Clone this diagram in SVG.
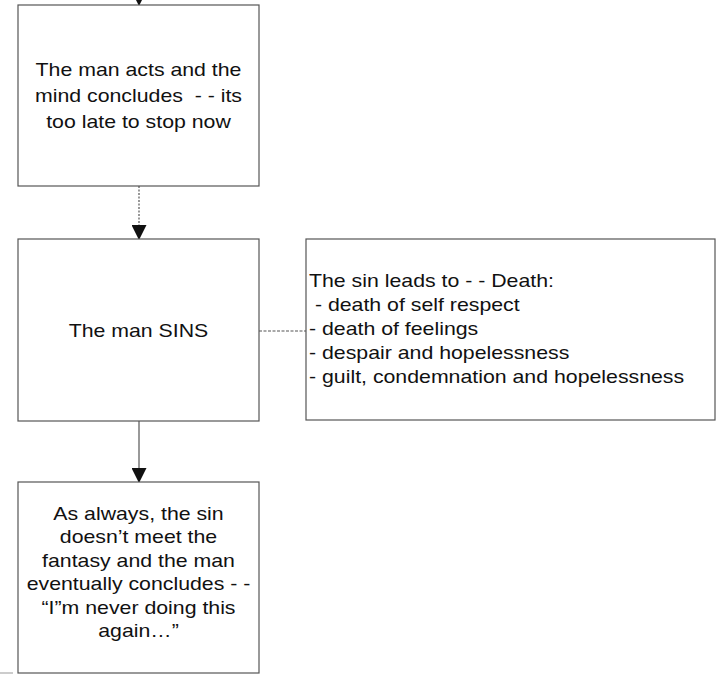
<svg xmlns="http://www.w3.org/2000/svg" width="716" height="676" viewBox="0 0 716 676">
  <style>
    .box { fill: #ffffff; stroke: #555555; stroke-width: 1.2; }
    .lbl { font-family: "Liberation Sans", Arial, sans-serif; font-size: 18.6px; fill: #111111; }
    .mid { text-anchor: middle; }
    .conn { stroke: #555555; stroke-width: 1.2; fill: none; }
    .dot { stroke-dasharray: 2 1.5; }
    .dash { stroke-dasharray: 3 1.5; }
  </style>
  <defs>
    <marker id="arrow" markerUnits="userSpaceOnUse" markerWidth="15" markerHeight="15" refX="14" refY="7.5" orient="auto" viewBox="0 0 15 15">
      <path d="M0,0 L15,7.5 L0,15 z" fill="#111111"/>
    </marker>
  </defs>
  <rect width="716" height="676" fill="#ffffff"/>

  <g id="connectors">
    <line class="conn" x1="139" y1="-30" x2="139" y2="5" marker-end="url(#arrow)"/>
    <line class="conn dot" x1="139" y1="186" x2="139" y2="239" marker-end="url(#arrow)"/>
    <line class="conn" x1="139" y1="421" x2="139" y2="482" marker-end="url(#arrow)"/>
    <line class="conn dash" x1="259" y1="331" x2="306" y2="331"/>
  </g>

  <g id="node-acts">
    <rect class="box" x="18" y="5" width="241" height="181"/>
    <g transform="translate(138.5,0) scale(1.145,1)">
      <text class="lbl mid" x="0" y="76">The man acts and the</text>
      <text class="lbl mid" x="0" y="102" xml:space="preserve">mind concludes  - - its</text>
      <text class="lbl mid" x="0" y="128">too late to stop now</text>
    </g>
  </g>

  <g id="node-sins">
    <rect class="box" x="18" y="239" width="241" height="182"/>
    <g transform="translate(138.5,0) scale(1.145,1)">
      <text class="lbl mid" x="0" y="337">The man SINS</text>
    </g>
  </g>

  <g id="node-death">
    <rect class="box" x="306" y="239" width="409" height="181"/>
    <g transform="translate(309,0) scale(1.145,1)">
      <text class="lbl" x="0" y="287">The sin leads to - - Death:</text>
      <text class="lbl" x="0" y="311" xml:space="preserve"> - death of self respect</text>
      <text class="lbl" x="0" y="335">- death of feelings</text>
      <text class="lbl" x="0" y="359">- despair and hopelessness</text>
      <text class="lbl" x="0" y="383">- guilt, condemnation and hopelessness</text>
    </g>
  </g>

  <g id="node-again">
    <rect class="box" x="18" y="482" width="241" height="191"/>
    <g transform="translate(138.5,0) scale(1.145,1)">
      <text class="lbl mid" x="0" y="520">As always, the sin</text>
      <text class="lbl mid" x="0" y="543.5">doesn’t meet the</text>
      <text class="lbl mid" x="0" y="567">fantasy and the man</text>
      <text class="lbl mid" x="0" y="590.5">eventually concludes - -</text>
      <text class="lbl mid" x="0" y="614">“I”m never doing this</text>
      <text class="lbl mid" x="0" y="637.5">again…”</text>
    </g>
  </g>

  <line x1="0" y1="673" x2="13" y2="673" stroke="#999999" stroke-width="1"/>
</svg>
